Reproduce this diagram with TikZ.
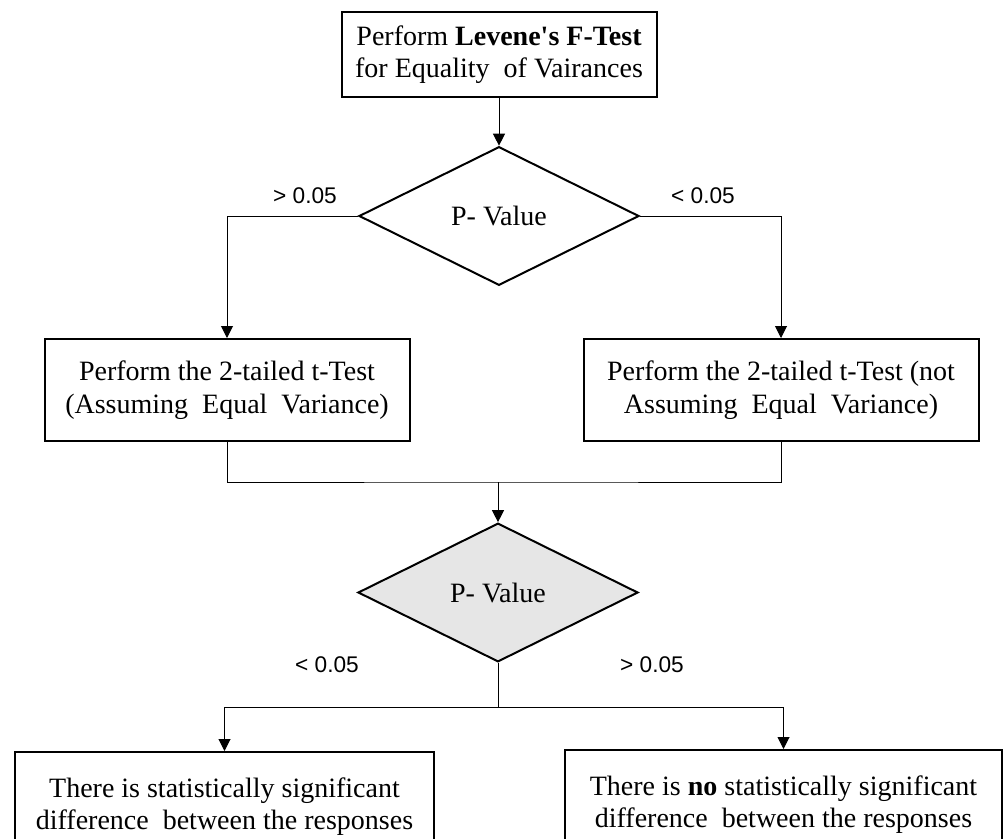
\documentclass[tikz,border=0pt]{standalone}
\usepackage{fontspec}
\setmainfont{Liberation Serif}
\newfontfamily\labfont{Liberation Sans}
\usetikzlibrary{shapes.geometric}
\usetikzlibrary{arrows.meta}
\definecolor{decgray}{RGB}{230,230,230}

\begin{document}
\begin{tikzpicture}[x=0.75pt,y=0.75pt,yscale=-1,xscale=1,
	boxnode/.style={draw, line width=1.5pt, align=center, inner sep=0pt, font=\fontsize{21}{24}\selectfont},
	decnode/.style={draw, diamond, line width=1.5pt, inner sep=0pt, minimum width=210pt, minimum height=104pt, font=\fontsize{21}{24}\selectfont},
	flowline/.style={line width=0.75pt},
	flowarrow/.style={line width=0.75pt, -{Triangle[length=9pt,width=9pt]}},
	cutlabel/.style={inner sep=0pt, font=\labfont\fontsize{17}{20}\selectfont}]
		\clip (0,0) rectangle (1004,839);

		% Text Node
		\node [boxnode, minimum width=236.25pt, minimum height=63.75pt] (lev) at (499,54.5) {Perform \textbf{Levene\textquotesingle s F-Test}\\for Equality\ \ of Vairances};
		%Shape: Diamond
		\node [decnode] (pv1) at (499,216) {P- Value};
		% Text Node
		\node [boxnode, minimum width=273.75pt, minimum height=76.5pt, font=\fontsize{21}{24.75}\selectfont] (eqv) at (227,390) {Perform the 2-tailed t-Test\\(Assuming\ \ Equal\ \ Variance)};
		% Text Node
		\node [boxnode, minimum width=296.25pt, minimum height=76.5pt, font=\fontsize{21}{24.75}\selectfont] (neq) at (781,390) {Perform the 2-tailed t-Test (not\\Assuming\ \ Equal\ \ Variance)};
		%Shape: Diamond
		\node [decnode, fill=decgray] (pv2) at (498,592.5) {P- Value};
		% Text Node
		\node [boxnode, minimum width=314.25pt, minimum height=82.5pt] (sig) at (224.5,807) {There is statistically significant\\difference\ \ between the responses};
		% Text Node
		\node [boxnode, minimum width=327.75pt, minimum height=82.5pt] (nosig) at (783.5,805) {There is \textbf{no} statistically significant\\difference\ \ between the responses};

		% Labels
		\node [cutlabel] (gt1) at (305,196) {> 0.05};
		\node [cutlabel] (lt1) at (703,196) {< 0.05};
		\node [cutlabel] (lt2) at (327,665) {< 0.05};
		\node [cutlabel] (gt2) at (652,665) {> 0.05};

		%Straight Lines
		\draw [flowarrow] (lev) -- (pv1);
		\draw [flowarrow] (pv1.west) -| (eqv);
		\draw [flowarrow] (pv1.east) -| (neq);
		\coordinate (mrg) at (498,482);
		\draw [flowline] (eqv.south) |- (mrg) -| (neq.south);
		\draw [flowarrow] (mrg) -- (pv2);
		\coordinate (spl) at (498,707);
		\draw [flowline] (pv2) -- (spl);
		\draw [flowarrow] (spl) -| (sig);
		\draw [flowarrow] (spl) -| (nosig);

\end{tikzpicture}
\end{document}
